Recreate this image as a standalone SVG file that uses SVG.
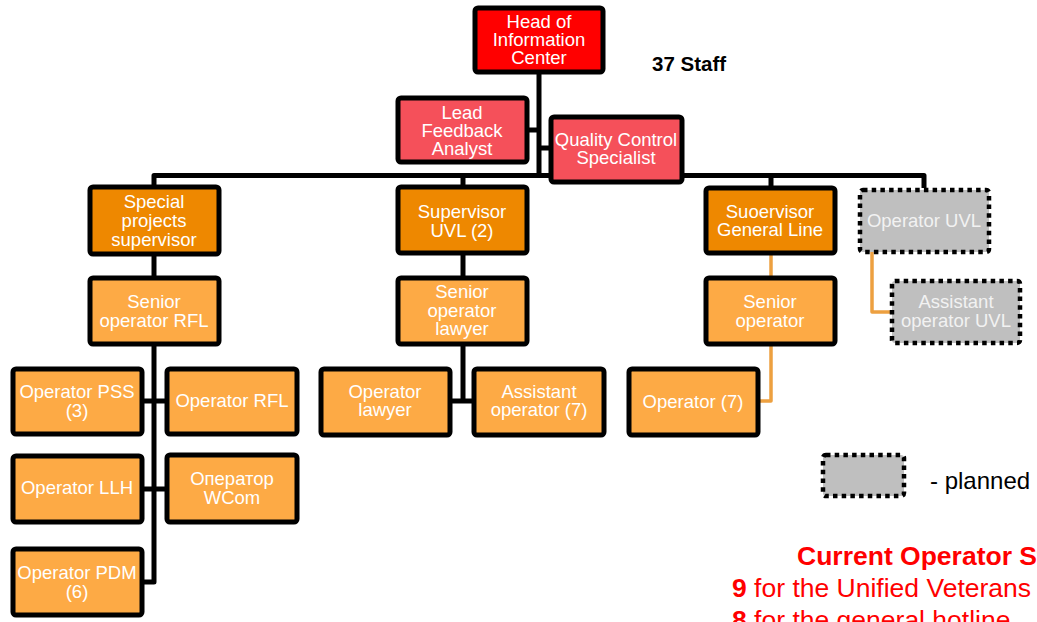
<svg xmlns="http://www.w3.org/2000/svg" width="1037" height="622" viewBox="0 0 1037 622">
<style>
.box{stroke:#000;stroke-width:5;}
.head{fill:#FF0000;}
.red{fill:#F5505A;}
.sup{fill:#EE8800;}
.op{fill:#FDAA45;}
.plan{fill:#BFBFBF;stroke:#000;stroke-width:4.5;stroke-dasharray:4.5 4.2;}
.t{font-family:"Liberation Sans",Arial,sans-serif;font-size:18.5px;fill:#fff;text-anchor:middle;}
.tp{fill:#F2F2F2;}
.conn{fill:none;stroke:#000;stroke-width:5;stroke-linejoin:round;}
.conno{fill:none;stroke:#EDA040;stroke-width:3.5;stroke-linejoin:round;}
.lbl{font-family:"Liberation Sans",Arial,sans-serif;}
</style>
<rect width="1037" height="622" fill="#fff"/>
<g id="connectors">
<path class="conn" d="M539 72V177"/>
<path class="conn" d="M527 130H539"/>
<path class="conn" d="M539 148H551"/>
<path class="conn" d="M154 187V175.5H924V188"/>
<path class="conn" d="M463 175V187"/>
<path class="conn" d="M771 175V188"/>
<path class="conn" d="M154 254V278"/>
<path class="conn" d="M154 344V582H142"/>
<path class="conn" d="M142 401H166"/>
<path class="conn" d="M142 489H166"/>
<path class="conn" d="M463 253V278"/>
<path class="conn" d="M463 344V401"/>
<path class="conn" d="M450 401H474"/>
<path class="conno" d="M771 253V278"/>
<path class="conno" d="M771 344V401H758"/>
<path class="conno" d="M872 252V312H891"/>
</g>
<g id="head"><rect class="box head" x="475" y="8" width="128" height="64" rx="3"/><text class="t" x="539" y="28">Head of</text><text class="t" x="539" y="46">Information</text><text class="t" x="539" y="64">Center</text></g>
<g id="lead"><rect class="box red" x="398" y="98" width="129" height="64" rx="3"/><text class="t" x="462" y="119">Lead</text><text class="t" x="462" y="137">Feedback</text><text class="t" x="462" y="155">Analyst</text></g>
<g id="qc"><rect class="box red" x="551" y="117" width="131" height="65" rx="3"/><text class="t" x="616" y="146">Quality Control</text><text class="t" x="616" y="164">Specialist</text></g>
<g id="special"><rect class="box sup" x="90" y="187" width="129" height="67" rx="3"/><text class="t" x="154" y="208">Special</text><text class="t" x="154" y="227">projects</text><text class="t" x="154" y="246">supervisor</text></g>
<g id="senior-rfl"><rect class="box op" x="90" y="278" width="129" height="66" rx="3"/><text class="t" x="154" y="308">Senior</text><text class="t" x="154" y="327">operator RFL</text></g>
<g id="op-pss"><rect class="box op" x="13" y="369" width="129" height="65" rx="3"/><text class="t" x="77" y="398">Operator PSS</text><text class="t" x="77" y="417">(3)</text></g>
<g id="op-rfl"><rect class="box op" x="167" y="369" width="130" height="65" rx="3"/><text class="t" x="232" y="407">Operator RFL</text></g>
<g id="op-llh"><rect class="box op" x="13" y="456" width="129" height="66" rx="3"/><text class="t" x="77" y="494">Operator LLH</text></g>
<g id="op-wcom"><rect class="box op" x="167" y="455" width="130" height="67" rx="3"/><text class="t" x="232" y="485">Оператор</text><text class="t" x="232" y="504">WCom</text></g>
<g id="op-pdm"><rect class="box op" x="13" y="549" width="129" height="66" rx="3"/><text class="t" x="77" y="579">Operator PDM</text><text class="t" x="77" y="598">(6)</text></g>
<g id="sup-uvl"><rect class="box sup" x="398" y="187" width="129" height="66" rx="3"/><text class="t" x="462" y="218">Supervisor</text><text class="t" x="462" y="237">UVL (2)</text></g>
<g id="senior-lawyer"><rect class="box op" x="398" y="278" width="129" height="66" rx="3"/><text class="t" x="462" y="298">Senior</text><text class="t" x="462" y="317">operator</text><text class="t" x="462" y="335">lawyer</text></g>
<g id="op-lawyer"><rect class="box op" x="321" y="369" width="129" height="66" rx="3"/><text class="t" x="385" y="398">Operator</text><text class="t" x="385" y="416">lawyer</text></g>
<g id="asst-op"><rect class="box op" x="474" y="369" width="130" height="66" rx="3"/><text class="t" x="539" y="398">Assistant</text><text class="t" x="539" y="416">operator (7)</text></g>
<g id="sup-gl"><rect class="box sup" x="706" y="188" width="129" height="65" rx="3"/><text class="t" x="770" y="218">Suoervisor</text><text class="t" x="770" y="236">General Line</text></g>
<g id="senior-op"><rect class="box op" x="706" y="278" width="129" height="66" rx="3"/><text class="t" x="770" y="308">Senior</text><text class="t" x="770" y="327">operator</text></g>
<g id="op7"><rect class="box op" x="629" y="369" width="129" height="66" rx="3"/><text class="t" x="693" y="408">Operator (7)</text></g>
<g id="op-uvl"><rect class="plan" x="860" y="190" width="129" height="62" rx="3"/><text class="t tp" x="924" y="227">Operator UVL</text></g>
<g id="asst-uvl"><rect class="plan" x="892" y="281" width="128" height="62" rx="3"/><text class="t tp" x="956" y="308">Assistant</text><text class="t tp" x="956" y="327">operator UVL</text></g>
<g id="legend"><rect class="plan" x="823" y="455" width="81" height="41" rx="3"/><text class="lbl" x="930" y="489" font-size="24" fill="#000">- planned</text></g>
<text class="lbl" x="652" y="71" font-size="20.5" font-weight="bold" fill="#000">37 Staff</text>
<g id="notes" class="lbl" font-size="26.5" fill="#FF0000">
<text x="797" y="565" font-weight="bold">Current Operator St</text>
<text x="732" y="597"><tspan font-weight="bold">9</tspan> for the Unified Veterans</text>
<text x="732" y="629"><tspan font-weight="bold">8</tspan> for the general hotline</text>
</g>
</svg>
